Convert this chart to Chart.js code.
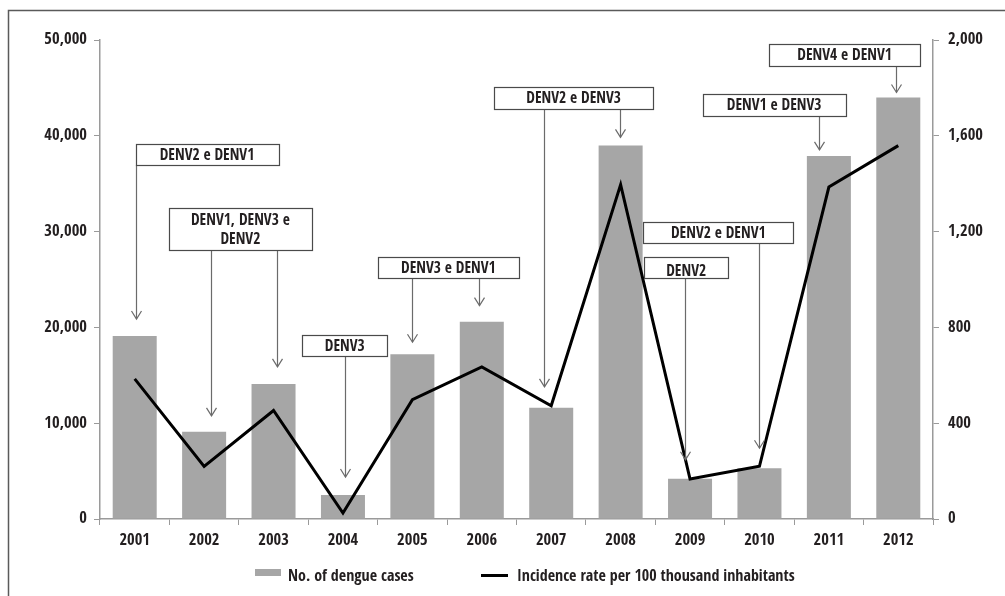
<!DOCTYPE html>
<html>
<head>
<meta charset="utf-8">
<script src="https://cdn.jsdelivr.net/npm/chart.js@4.4.1/dist/chart.umd.min.js"></script>
<style>
  html, body { margin: 0; padding: 0; background: #ffffff; }
  #wrap { position: relative; width: 1005px; height: 596px; }
</style>
</head>
<body>
<div id="wrap"><canvas id="c" width="1005" height="596"></canvas></div>
<script>
// ---- data ----
const years = ['2001','2002','2003','2004','2005','2006','2007','2008','2009','2010','2011','2012'];
const dengueCases = [19100, 9100, 14100, 2500, 17200, 20600, 11600, 39000, 4200, 5300, 37900, 44000];
const incidenceRate = [585, 220, 453, 25, 498, 635, 473, 1396, 167, 220, 1386, 1559];
const seriesNames = ['No. of dengue cases', 'Incidence rate per 100 thousand inhabitants'];
const serotypeLabels = [
  ['DENV2 e DENV1'],
  ['DENV1, DENV3 e', 'DENV2'],
  ['DENV3'],
  ['DENV3 e DENV1'],
  ['DENV2 e DENV3'],
  ['DENV2'],
  ['DENV2 e DENV1'],
  ['DENV1 e DENV3'],
  ['DENV4 e DENV1']
];
const serotypeTargets = [
  ['2001'], ['2002','2003'], ['2004'], ['2005','2006'], ['2007','2008'],
  ['2009'], ['2010'], ['2011'], ['2012']
];
const leftTicks = [0, 10000, 20000, 30000, 40000, 50000];
const rightTicks = [0, 400, 800, 1200, 1600, 2000];

// ---- layout of the serotype call-outs (category-index / left-axis units) ----
const calloutLayout = [
  { x0: 0.014, x1: 2.069, top: 39144, h: 21, arrows: [{ dx: 1, gap: 17 }] },
  { x0: 0.494, x1: 2.55,  top: 32422, h: 42, arrows: [{ dx: 6.6, gap: 16 }, { dx: 3, gap: 17 }] },
  { x0: 2.414, x1: 3.639, top: 19207, h: 21, arrows: [{ dx: 2, gap: 18 }] },
  { x0: 3.5,   x1: 5.536, top: 27349, h: 21, arrows: [{ dx: 0, gap: 12 }, { dx: -3, gap: 16 }] },
  { x0: 5.176, x1: 7.47,  top: 45094, h: 22, arrows: [{ dx: -7, gap: 21 }, { dx: -1, gap: 8 }] },
  { x0: 7.337, x1: 8.551, top: 27349, h: 21, arrows: [{ dx: -5, gap: 19 }], textDy: 3 },
  { x0: 7.327, x1: 9.487, top: 31002, h: 21, arrows: [{ dx: 0, gap: 20 }] },
  { x0: 8.182, x1: 10.242, top: 44363, h: 22, arrows: [{ dx: -10, gap: 6 }] },
  { x0: 9.142, x1: 11.312, top: 49582, h: 22, arrows: [{ dx: -2.5, gap: 5 }] }
];

const FONT = "'Open Sans Condensed', 'Roboto Condensed', 'DejaVu Sans Condensed', sans-serif";
const TEXT = '#231f20';
const AXIS = '#9a9a9a';
const BAR = '#a6a6a6';

const framePlugin = {
  id: 'frame',
  beforeDraw(chart) {
    const ctx = chart.ctx;
    ctx.save();
    ctx.fillStyle = '#ffffff';
    ctx.fillRect(0, 0, chart.width, chart.height);
    ctx.strokeStyle = '#5a5a5a';
    ctx.lineWidth = 1.5;
    ctx.beginPath();
    ctx.moveTo(8.5, chart.height + 2);
    ctx.lineTo(8.5, 10.5);
    ctx.lineTo(chart.width + 2, 10.5);
    ctx.stroke();
    ctx.restore();
  }
};

const calloutPlugin = {
  id: 'callouts',
  afterDatasetsDraw(chart) {
    const ctx = chart.ctx;
    const xs = chart.scales.x;
    const ys = chart.scales.y;
    ctx.save();
    serotypeLabels.forEach((lines, i) => {
      const L = calloutLayout[i];
      const left = xs.getPixelForValue(L.x0);
      const right = xs.getPixelForValue(L.x1);
      const top = ys.getPixelForValue(L.top);
      const bottom = top + L.h;
      ctx.strokeStyle = '#6b6b6b';
      ctx.lineWidth = 1.2;
      serotypeTargets[i].forEach((yr, k) => {
        const idx = years.indexOf(yr);
        const a = L.arrows[k];
        const ax = Math.round(xs.getPixelForValue(idx) + a.dx) + 0.5;
        const tipY = ys.getPixelForValue(dengueCases[idx]) - a.gap;
        ctx.beginPath();
        ctx.moveTo(ax, bottom);
        ctx.lineTo(ax, tipY);
        ctx.stroke();
        ctx.beginPath();
        ctx.moveTo(ax - 5, tipY - 8);
        ctx.lineTo(ax, tipY);
        ctx.lineTo(ax + 5, tipY - 8);
        ctx.stroke();
      });
      ctx.fillStyle = '#ffffff';
      ctx.fillRect(left, top, right - left, L.h);
      ctx.strokeStyle = '#4a4a4a';
      ctx.lineWidth = 1.2;
      ctx.strokeRect(Math.round(left) + 0.5, Math.round(top) + 0.5, Math.round(right - left), Math.round(L.h));
      ctx.fillStyle = TEXT;
      ctx.font = 'bold 15.5px ' + FONT;
      ctx.textAlign = 'center';
      ctx.textBaseline = 'middle';
      const cx = (left + right) / 2;
      const lh = 19;
      const startY = top + L.h / 2 - (lines.length - 1) * lh / 2 + 1 + (L.textDy || 0);
      lines.forEach((t, j) => ctx.fillText(t, cx, startY + j * lh));
    });
    ctx.restore();
  }
};

const legendPlugin = {
  id: 'customLegend',
  afterDraw(chart) {
    const ctx = chart.ctx;
    const ds = chart.data.datasets;
    ctx.save();
    ctx.font = 'bold 16px ' + FONT;
    ctx.textAlign = 'left';
    ctx.textBaseline = 'middle';
    const y = 577;
    ctx.fillStyle = ds[0].backgroundColor;
    ctx.fillRect(255, y - 8, 26, 7);
    ctx.fillStyle = TEXT;
    ctx.fillText(ds[0].label, 288, y);
    ctx.strokeStyle = ds[1].borderColor;
    ctx.lineWidth = 3;
    ctx.beginPath();
    ctx.moveTo(481, y - 1.5);
    ctx.lineTo(508, y - 1.5);
    ctx.stroke();
    ctx.fillText(ds[1].label, 517, y);
    ctx.restore();
  }
};

const tickFont = { family: FONT, size: 16.5, weight: 'bold' };

new Chart(document.getElementById('c'), {
  data: {
    labels: years,
    datasets: [
      {
        type: 'bar',
        label: seriesNames[0],
        data: dengueCases,
        backgroundColor: BAR,
        borderWidth: 0,
        yAxisID: 'y',
        order: 2,
        barPercentage: 0.634,
        categoryPercentage: 1.0
      },
      {
        type: 'line',
        label: seriesNames[1],
        data: incidenceRate,
        borderColor: '#000000',
        backgroundColor: '#000000',
        borderWidth: 3,
        pointRadius: 0,
        tension: 0,
        yAxisID: 'y1',
        order: 1
      }
    ]
  },
  options: {
    responsive: false,
    animation: false,
    devicePixelRatio: 1,
    layout: { padding: { left: 0, right: 0, top: 40, bottom: 40 } },
    plugins: { legend: { display: false }, tooltip: { enabled: false } },
    scales: {
      x: {
        type: 'category',
        offset: true,
        grid: { display: true, drawOnChartArea: false, drawTicks: true, tickLength: 6, color: AXIS, offset: true },
        border: { display: true, color: AXIS, width: 1.5 },
        ticks: { color: TEXT, font: tickFont, padding: 6, maxRotation: 0 },
        afterFit(s) { s.height = 37; }
      },
      y: {
        position: 'left',
        min: 0, max: 50000,
        afterBuildTicks(s) { s.ticks = leftTicks.map(v => ({ value: v })); },
        grid: { display: true, drawOnChartArea: false, drawTicks: true, tickLength: 6, color: AXIS },
        border: { display: true, color: AXIS, width: 1.5 },
        ticks: { color: TEXT, font: tickFont, padding: 7,
          callback: v => Number(v).toLocaleString('en-US') },
        afterFit(s) { s.width = 100; }
      },
      y1: {
        position: 'right',
        min: 0, max: 2000,
        afterBuildTicks(s) { s.ticks = rightTicks.map(v => ({ value: v })); },
        grid: { display: true, drawOnChartArea: false, drawTicks: true, tickLength: 6, color: AXIS },
        border: { display: true, color: AXIS, width: 1.5 },
        ticks: { color: TEXT, font: tickFont, padding: 9,
          callback: v => Number(v).toLocaleString('en-US') },
        afterFit(s) { s.width = 72; }
      }
    }
  },
  plugins: [framePlugin, calloutPlugin, legendPlugin]
});
</script>
</body>
</html>
